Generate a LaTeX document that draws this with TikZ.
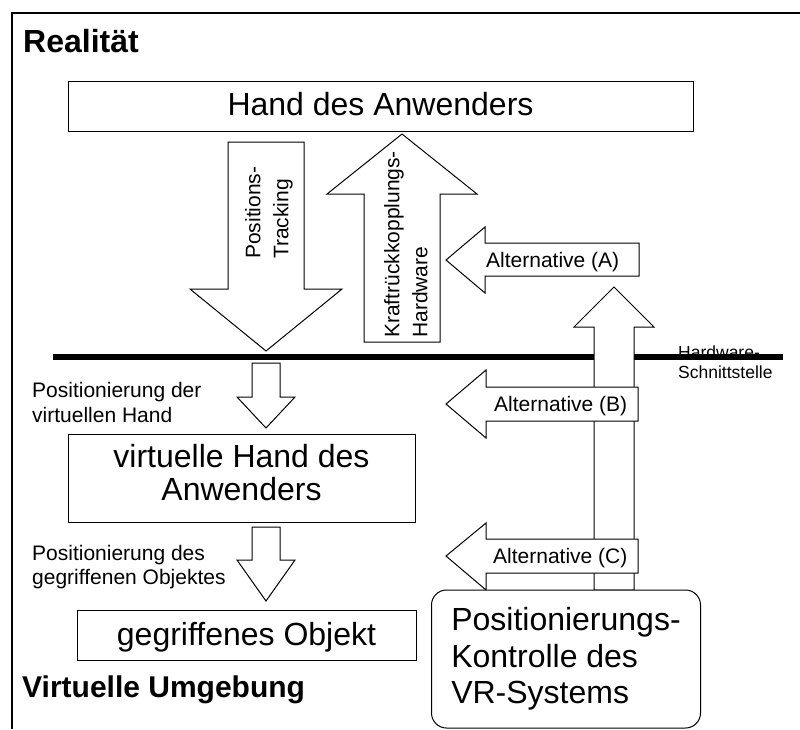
\documentclass[tikz,border=0pt]{standalone}
\usepackage{fontspec}
\setmainfont{Liberation Sans}
\begin{document}
\begin{tikzpicture}[x=1pt,y=-1pt,
  box/.style={draw, line width=1pt, fill=white, inner sep=0pt},
  blockarrow/.style={draw, line width=1pt, fill=white, line join=miter},
  big/.style={font=\fontsize{32}{36.5}\selectfont},
  small/.style={font=\fontsize{21}{25}\selectfont, inner sep=0pt},
  vsmall/.style={font=\fontsize{21}{28}\selectfont, inner sep=0pt, rotate=90, anchor=north west, align=left},
  note/.style={font=\fontsize{17.5}{20}\selectfont, inner sep=0pt},
  heading/.style={inner sep=0pt, anchor=base west}]
\useasboundingbox (0,0) rectangle (800,729);

% frame of the two domains
\draw[line width=2pt] (12,729) -- (12,13) -- (800,13);

% hardware interface line
\draw[line width=6pt] (53,357) -- (783,357);
\node[note, anchor=north west, align=left] (hwif) at (678,345.5) {Hardware-\\Schnittstelle};

% user's real hand
\node[box, big, minimum width=625pt, minimum height=50pt,
      text height=23pt, text depth=5pt] (hand) at (380.5,106) {Hand des Anwenders};

% position tracking (down)
\draw[blockarrow] (228,142) -- (304,142) -- (304,289) -- (342,289) -- (266,351)
  -- (190,289) -- (228,289) -- cycle;
\node[vsmall] (tracking) at (245,259) {Positions-\\Tracking};

% force feedback hardware (up)
\draw[blockarrow] (402,134) -- (477,194) -- (440,194) -- (440,342) -- (364,342)
  -- (364,194) -- (327,194) -- cycle;
\node[vsmall] (kraft) at (384,338) {Kraftrückkopplungs-\\Hardware};

% control path rising from the VR system
\draw[blockarrow] (614,287) -- (654,327) -- (634,327) -- (634,590) -- (594,590)
  -- (594,327) -- (574,327) -- cycle;

% alternatives
\draw[blockarrow] (446,260) -- (485,227) -- (485,243) -- (639,243) -- (639,276)
  -- (485,276) -- (485,293) -- cycle;
\node[small, anchor=base west] (altA) at (486,267) {Alternative (A)};

\draw[blockarrow] (446,404) -- (486,370) -- (486,387) -- (638,387) -- (638,421)
  -- (486,421) -- (486,438) -- cycle;
\node[small, anchor=base west] (altB) at (494,411.5) {Alternative (B)};

\draw[blockarrow] (446,556) -- (486,523) -- (486,539) -- (638,539) -- (638,573)
  -- (486,573) -- (486,590) -- cycle;
\node[small, anchor=base west] (altC) at (493,563.5) {Alternative (C)};

% virtual side
\draw[blockarrow] (252,363) -- (280,363) -- (280,397) -- (295,397) -- (266,428)
  -- (237,397) -- (252,397) -- cycle;
\node[small, anchor=north west, align=left] (posvh) at (32,382) {Positionierung der\\virtuellen Hand};

\node[box, big, align=center, minimum width=347pt, minimum height=88pt,
      font=\fontsize{32}{33}\selectfont] (vhand) at (241.5,478)
  {virtuelle Hand des\\Anwenders\rule[-12pt]{0pt}{0pt}};

\draw[blockarrow] (252,527) -- (280,527) -- (280,560) -- (295,560) -- (266,601)
  -- (237,560) -- (252,560) -- cycle;
\node[small, anchor=north west, align=left, font=\fontsize{21}{24.5}\selectfont]
  (posobj) at (32,545) {Positionierung des\\gegriffenen Objektes};

\node[box, big, minimum width=339pt, minimum height=50pt,
      text height=20pt, text depth=0pt] (obj) at (246.5,635) {gegriffenes Objekt};

% VR system position control
\node[box, big, rounded corners=15pt, align=left, minimum width=269pt,
      minimum height=138pt] (ctrl) at (566,659)
  {Positionierungs-\\Kontrolle des\\VR-Systems};

% domain headings
\node[heading, font=\fontsize{32}{36}\selectfont\bfseries] (real) at (23,52) {Realität};
\node[heading, font=\fontsize{30}{34}\selectfont\bfseries] (virt) at (22,697) {Virtuelle Umgebung};
\end{tikzpicture}
\end{document}
